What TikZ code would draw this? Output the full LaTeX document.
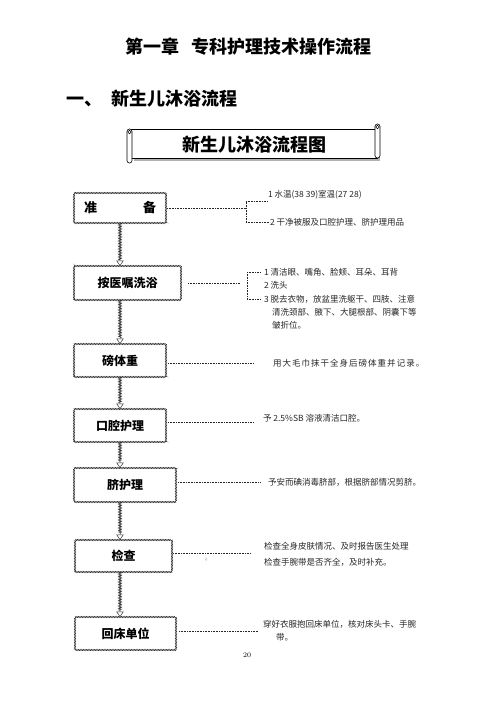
\documentclass[tikz,border=0pt]{standalone}
\usepackage{fontspec}
\newfontfamily\cjk{Noto Sans CJK SC}
\usetikzlibrary{decorations.pathmorphing,arrows.meta}
\begin{document}
\begin{tikzpicture}[x=1pt,y=-1pt,
  every node/.style={inner sep=0pt, outer sep=0pt},
  stepbox/.style={draw=black!85, fill=white, line width=0.45pt, decorate,
    decoration={zigzag, segment length=1.6pt, amplitude=0.7pt},
    font=\cjk\bfseries\fontsize{12}{14}\selectfont},
  conn/.style={draw=black!80, line width=0.5pt, decorate,
    decoration={zigzag, segment length=1.6pt, amplitude=1.4pt, post length=6pt},
    -{Triangle[open, width=7.5pt, length=5.5pt, line width=0.5pt]}},
  dotline/.style={draw=black!85, line width=0.6pt, dash pattern=on 0.8pt off 0.8pt},
  note/.style={anchor=west, text=black!85, font=\cjk\fontsize{8.5}{10}\selectfont},
  headtxt/.style={font=\cjk\bfseries\fontsize{#1}{#1}\selectfont}
]
\useasboundingbox (0,0) rectangle (496,702);

% titles
\node[headtxt=18] (title) at (248.5,47) {第一章\hspace{0.7em}专科护理技术操作流程};
\node[headtxt=18, anchor=west] (head) at (66,99) {一、\hspace{10pt}新生儿沐浴流程};

% scroll banner
\fill[gray!60] (134,132) rectangle (380,161);
\draw[fill=white, line width=0.6pt] (131,129) rectangle (377,158);
\draw[fill=white, line width=0.6pt, rounded corners=2.4pt] (127,129) rectangle (132,163);
\draw[line width=0.5pt] (129.5,132) circle (1.8pt);
\draw[fill=white, line width=0.6pt, rounded corners=2.4pt] (375,124) rectangle (380,158);
\draw[line width=0.5pt] (377.5,127) circle (1.8pt);
\node[headtxt=18] (banner) at (254.5,145) {新生儿沐浴流程图};

% step boxes
\node[stepbox, minimum width=92pt, minimum height=30pt, font=\cjk\bfseries\fontsize{13}{14}\selectfont] (b1) at (120,208) {准\hspace*{46pt}备};
\node[stepbox, minimum width=107pt, minimum height=34pt] (b2) at (127.5,283) {按医嘱洗浴};
\node[stepbox, minimum width=92pt, minimum height=33pt] (b3) at (120,360.5) {磅体重};
\node[stepbox, minimum width=92pt, minimum height=33pt] (b4) at (120,425.5) {口腔护理};
\node[stepbox, minimum width=102pt, minimum height=34pt] (b5) at (125,485) {脐护理};
\node[stepbox, minimum width=97pt, minimum height=32pt] (b6) at (123.5,556) {检查};
\node[stepbox, minimum width=101pt, minimum height=33pt] (b7) at (125.5,633.5) {回床单位};

% vertical connectors
\draw[conn] (b1.south) -- (b1.south |- b2.north);
\draw[conn] (b3.north |- b2.south) -- (b3.north);
\draw[conn] (b3.south) -- (b4.north);
\draw[conn] (b4.south) -- (b4.south |- b5.north);
\draw[conn] (b4.south |- b5.south) -- (b4.south |- b6.north);
\draw[conn] (b4.south |- b6.south) -- (b4.south |- b7.north);

% notes
\node[note] (n1a) at (268,195) {1 水温(38 39)室温(27 28)};
\node[note] (n1b) at (270,222.5) {2 干净被服及口腔护理、脐护理用品};
\node[note] (n2a) at (264,272) {1 清洁眼、嘴角、脸颊、耳朵、耳背};
\node[note] (n2b) at (264,285) {2 洗头};
\node[note] (n2c) at (264,299) {3 脱去衣物，放盆里洗躯干、四肢、注意};
\node[note] (n2d) at (272,312) {清洗颈部、腋下、大腿根部、阴囊下等};
\node[note] (n2e) at (272,325) {皱折位。};
\node[note, font=\cjk\fontsize{8.5}{10}\selectfont\addfontfeatures{LetterSpace=12}] (n3) at (273,363) {用大毛巾抹干全身后磅体重并记录。};
\node[note] (n4) at (263,418) {予 2.5\%SB 溶液清洁口腔。};
\node[note] (n5) at (268,482) {予安而碘消毒脐部，根据脐部情况剪脐。};
\node[note] (n6a) at (264,546) {检查全身皮肤情况、及时报告医生处理};
\node[note] (n6b) at (264,562) {检查手腕带是否齐全，及时补充。};
\node[note] (n7a) at (263,624) {穿好衣服抱回床单位，核对床头卡、手腕};
\node[note] (n7b) at (276,637) {带。};
\node[text=black!60, font=\cjk\fontsize{6}{6}\selectfont] (dot6) at (208,560) {。};
\node[font=\fontsize{7}{8}\selectfont] (pg) at (247,655) {20};

% dotted leaders
\coordinate (k1) at (246,208);
\coordinate (k1t) at (246,201.5);
\coordinate (k1b) at (246,222.5);
\draw[dotline, shorten <=1pt] (b1.east) -- (k1);
\draw[dotline] (k1t) -- (k1b);
\draw[dotline] (k1t) -- (n1a.west |- k1t);
\draw[dotline] (k1b) -- (n1b.west);

\coordinate (k2) at (240,283);
\coordinate (k2t) at (247,272);
\coordinate (k2b) at (247,299);
\draw[dotline, shorten <=7pt] (b2.east) -- (k2);
\draw[dotline] (k2t) -- (k2b);
\draw[dotline, shorten >=3pt] (k2t) -- (n2a.west);
\draw[dotline, shorten >=3pt] (k2b) -- (n2c.west);

\draw[dotline, shorten <=2pt] (n3 -| b3.east) -- ([xshift=-20pt]n3.west);
\coordinate (c4) at (253,422);
\draw[dotline, shorten <=2pt] (c4 -| b4.east) -- (c4);
\draw[dotline, shorten <=2pt] (n5 -| b5.east) -- ([xshift=-8pt]n5.west);
\coordinate (c6) at (251,553);
\draw[dotline, shorten <=1pt] (c6 -| b6.east) -- (c6);
\coordinate (c7) at (258,631);
\draw[dotline, shorten <=3pt] (c7 -| b7.east) -- (c7);
\end{tikzpicture}
\end{document}
